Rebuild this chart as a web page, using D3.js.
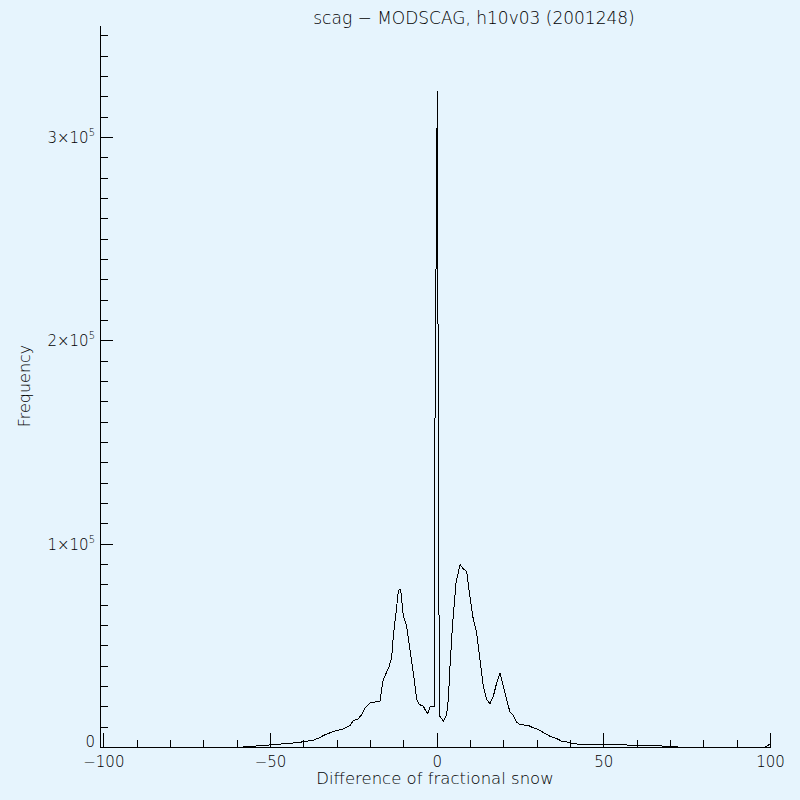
<!DOCTYPE html>
<html>
<head>
<meta charset="utf-8">
<script src="https://cdn.jsdelivr.net/npm/d3@7"></script>
<style>
  html, body { margin: 0; padding: 0; background: #e6f4fd; }
  svg { display: block; }
  text { font-weight: 200; }
</style>
</head>
<body>
<svg id="chart"></svg>
<script>
// histogram of scag - MODSCAG differences
var diffX = [-100, -58, -57.5, -51.5, -50, -43.5, -40, -37, -35.5, -33.5, -31, -28, -26, -25,
  -23.5, -22.5, -21.5, -20, -17, -16.5, -16, -14.3, -13.5, -13, -12.2, -11.5, -11, -10.7, -10,
  -9, -8, -7, -6, -5.2, -4, -3.5, -2.7, -2, -1.2, -0.7, -0.6, -0.3, 0, 0.2, 0.25, 0.5, 0.8,
  2, 3, 3.5, 4, 4.8, 5.8, 7, 8, 9, 9.8, 11, 12, 13, 14, 15, 16, 17, 18, 19, 20, 21, 22, 23,
  24, 25, 27.5, 29, 30.5, 32.5, 34, 36, 37.5, 39.5, 40.5, 43.5, 55, 65.5, 66, 72, 72.5,
  98.5, 99.2, 100];
var freq = [0, 0, 350, 600, 1080, 1870, 2560, 3340, 4320, 6000, 7620, 8940, 10570, 12870,
  13860, 15970, 19260, 21720, 22500, 28250, 33170, 39500, 43830, 54450, 65950, 76560, 77740, 75770, 64270,
  59360, 47910, 36460, 23340, 20880, 20050, 18430, 16460, 19750, 19750, 19900, 136000, 208600, 284000, 322600, 271000, 168300, 15500,
  12680, 15970, 23340, 39700, 61030, 80690, 89680, 87570, 86390, 75770, 62650, 56120, 43000, 29880, 23340, 21380, 24960, 31550, 36460, 29880, 23340, 17100, 15480,
  12290, 11060, 10570, 9430, 8600, 6630, 5310, 4180, 2850, 2360, 1720, 1230, 1000, 880, 500, 450, 0,
  0, 600, 1400];

var xTicks = [-100, -50, 0, 50, 100];
var xTickLabels = ["\u2212100", "\u221250", "0", "50", "100"];
var yTicks = [0, 100000, 200000, 300000];
var yTickBase = ["0", "1\u00d710", "2\u00d710", "3\u00d710"];
var yTickExp = ["", "5", "5", "5"];

var titleText = "scag \u2212 MODSCAG, h10v03 (2001248)";
var xLabel = "Difference of fractional snow";
var yLabel = "Frequency";

var W = 800, H = 800;
var font = "'DejaVu Sans', sans-serif";
var ink = "#000";

var svg = d3.select("#chart").attr("width", W).attr("height", H);
svg.append("rect").attr("width", W).attr("height", H).attr("fill", "#e6f4fd");

var x = d3.scaleLinear().domain([-101, 100]).range([100, 770]);
var y = d3.scaleLinear().domain([0, 355000]).range([747, 25]);

// x axis: ticks point up into the plot
var xMinor = d3.range(-90, 100, 10).filter(function(v){ return v % 50 != 0; });
svg.append("g")
    .attr("transform", "translate(0,747)")
    .call(d3.axisBottom(x).tickValues(xMinor).tickSize(-7).tickSizeOuter(0).tickFormat(""))
    .call(function(g){ g.select(".domain").remove(); });

var xAxis = svg.append("g")
    .attr("transform", "translate(0,747)")
    .call(d3.axisBottom(x).tickValues(xTicks).tickSize(-14).tickSizeOuter(0).tickPadding(9)
      .tickFormat(function(d, i){ return xTickLabels[i]; }));

// y axis: ticks point right
var yMinor = d3.range(10000, 355000, 10000).filter(function(v){ return v % 100000 != 0; });
svg.append("g")
    .attr("transform", "translate(100,0)")
    .call(d3.axisLeft(y).tickValues(yMinor).tickSize(-8).tickSizeOuter(0).tickFormat(""))
    .call(function(g){ g.select(".domain").remove(); });

var yAxis = svg.append("g")
    .attr("transform", "translate(100,0)")
    .call(d3.axisLeft(y).tickValues(yTicks).tickSize(-13).tickSizeOuter(0).tickFormat(""));

svg.selectAll(".domain, .tick line")
    .attr("stroke", ink)
    .attr("shape-rendering", "crispEdges");

xAxis.selectAll("text")
    .attr("font-family", font)
    .attr("font-size", 15)
    .attr("fill", ink);

// y tick labels with superscript exponent
yTicks.forEach(function(v, i){
  var ty = Math.min(y(v) + 6, 747);
  var t = svg.append("text")
      .attr("x", 95)
      .attr("y", ty)
      .attr("text-anchor", "end")
      .attr("font-family", font)
      .attr("font-size", 15)
      .attr("fill", ink);
  t.append("tspan").text(yTickBase[i]);
  if (yTickExp[i])
    t.append("tspan").attr("dy", -7).attr("font-size", 10).text(yTickExp[i]);
});

// histogram line
var line = d3.line()
    .x(function(d, i){ return x(diffX[i]); })
    .y(function(d){ return y(d); });

svg.append("path")
    .datum(freq)
    .attr("d", line)
    .attr("fill", "none")
    .attr("stroke", ink)
    .attr("stroke-width", 1)
    .attr("shape-rendering", "crispEdges");

// titles
svg.append("text")
    .attr("x", 474)
    .attr("y", 24)
    .attr("text-anchor", "middle")
    .attr("font-family", font)
    .attr("font-size", 17)
    .attr("fill", ink)
    .text(titleText);

svg.append("text")
    .attr("x", 435)
    .attr("y", 784)
    .attr("text-anchor", "middle")
    .attr("font-family", font)
    .attr("font-size", 16.5)
    .attr("fill", ink)
    .text(xLabel);

svg.append("text")
    .attr("transform", "translate(30,386) rotate(-90)")
    .attr("text-anchor", "middle")
    .attr("font-family", font)
    .attr("font-size", 16)
    .attr("fill", ink)
    .text(yLabel);
</script>
</body>
</html>
